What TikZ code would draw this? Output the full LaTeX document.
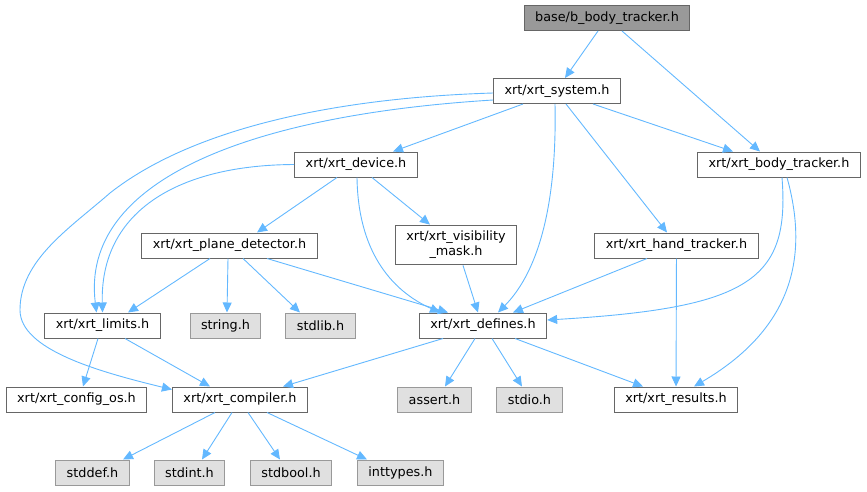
\documentclass[tikz,border=0pt]{standalone}
\usepackage{fontspec}
\setmainfont{DejaVu Sans}
\definecolor{doxyedge}{RGB}{99,184,255}
\definecolor{doxyframe}{RGB}{102,102,102}
\definecolor{doxysysframe}{RGB}{153,153,153}
\definecolor{doxysysfill}{RGB}{224,224,224}
\definecolor{doxyroot}{RGB}{153,153,153}
\usetikzlibrary{arrows.meta}

\begin{document}
\begin{tikzpicture}[x=1pt, y=-1pt,
  every node/.style={font=\fontsize{12.8}{15}\selectfont},
  hdr/.style={draw=doxyframe, fill=white, line width=1pt, minimum height=25pt, inner xsep=11pt, inner ysep=6pt, align=center},
  syshdr/.style={hdr, draw=doxysysframe, fill=doxysysfill},
  roothdr/.style={hdr, fill=doxyroot},
  dep/.style={draw=doxyedge, line width=0.9pt, -{Triangle[length=10pt,width=9pt]}}]
  \useasboundingbox (0,0) rectangle (867,491);

  % files
  \node [roothdr] (base) at (607,18) {base/b\_body\_tracker.h};
  \node [hdr] (sys) at (557,91) {xrt/xrt\_system.h};
  \node [hdr] (dev) at (356,164.5) {xrt/xrt\_device.h};
  \node [hdr] (body) at (779,164.5) {xrt/xrt\_body\_tracker.h};
  \node [hdr] (plane) at (229.5,245.5) {xrt/xrt\_plane\_detector.h};
  \node [hdr] (vis) at (456,245) {xrt/xrt\_visibility\\\_mask.h};
  \node [hdr] (hand) at (676.5,245.5) {xrt/xrt\_hand\_tracker.h};
  \node [hdr] (lim) at (102.5,325.5) {xrt/xrt\_limits.h};
  \node [syshdr] (str) at (225.5,325.5) {string.h};
  \node [syshdr] (slib) at (320.5,325.5) {stdlib.h};
  \node [hdr] (def) at (483,325.5) {xrt/xrt\_defines.h};
  \node [hdr] (cos) at (76.5,399.5) {xrt/xrt\_config\_os.h};
  \node [hdr] (comp) at (240,399.5) {xrt/xrt\_compiler.h};
  \node [syshdr] (asrt) at (434.5,399.5) {assert.h};
  \node [syshdr] (sio) at (529.5,399.5) {stdio.h};
  \node [hdr] (res) at (676,399.5) {xrt/xrt\_results.h};
  \node [syshdr] (sdef) at (92.5,472.5) {stddef.h};
  \node [syshdr] (sint) at (189.5,472.5) {stdint.h};
  \node [syshdr] (sbool) at (291,472.5) {stdbool.h};
  \node [syshdr] (itypes) at (400.5,472.5) {inttypes.h};

  % includes of the top files
  \draw [dep] ([xshift=-9]base.south) -- ([xshift=8]sys.north);
  \draw [dep] ([xshift=15]base.south) -- ([xshift=-19]body.north);
  \draw [dep] ([xshift=-34]sys.south) -- ([xshift=37]dev.north);
  \draw [dep] ([xshift=36]sys.south) -- ([xshift=-46]body.north);
  \draw [dep] ([xshift=9]sys.south) -- ([xshift=-9.5]hand.north);
  \draw [dep] ([xshift=-2]sys.south) .. controls (557,200) and (540,270) .. ([xshift=15]def.north);
  \draw [dep] ([yshift=-9]sys.west) .. controls (250,115) and (80,180) .. ([xshift=-6]lim.north);
  \draw [dep] ([yshift=-2]sys.west) .. controls (330,98) and (190,130) .. (110,193)
    .. controls (70,228) and (20,260) .. (20,310)
    .. controls (20,350) and (100,372) .. ([yshift=10]comp.west);

  % xrt_device.h
  \draw [dep] ([xshift=-19]dev.south) -- ([xshift=27.5]plane.north);
  \draw [dep] ([xshift=16]dev.south) -- ([xshift=-26]vis.north);
  \draw [dep] ([xshift=1]dev.south) .. controls (358,250) and (390,290) .. ([xshift=-43]def.north);
  \draw [dep] (dev.west) .. controls (180,165) and (100,210) .. (lim.north);

  % middle row
  \draw [dep] ([xshift=-19.5]plane.south) -- ([xshift=25.5]lim.north);
  \draw [dep] ([xshift=-1.5]plane.south) -- ([xshift=1.5]str.north);
  \draw [dep] ([xshift=13.5]plane.south) -- ([xshift=-20.5]slib.north);
  \draw [dep] ([xshift=37.5]plane.south) -- ([xshift=-35]def.north);
  \draw [dep] ([xshift=7]vis.south) -- ([xshift=-5]def.north);
  \draw [dep] ([xshift=-29.5]hand.south) -- ([xshift=30]def.north);
  \draw [dep] (hand) -- (res);
  \draw [dep] ([xshift=3]body.south) .. controls (790,280) and (750,308) .. ([yshift=5.5]def.east);
  \draw [dep] ([xshift=8]body.south) .. controls (810,260) and (790,330) .. ([xshift=18]res.north);

  % lower rows
  \draw [dep] ([xshift=-4.5]lim.south) -- ([xshift=6.5]cos.north);
  \draw [dep] ([xshift=22.5]lim.south) -- ([xshift=-30]comp.north);
  \draw [dep] ([xshift=-40]def.south) -- ([xshift=43]comp.north);
  \draw [dep] ([xshift=-8]def.south) -- ([xshift=10.5]asrt.north);
  \draw [dep] ([xshift=9]def.south) -- ([xshift=-7.5]sio.north);
  \draw [dep] ([xshift=32]def.south) -- ([xshift=-33]res.north);
  \draw [dep] ([xshift=-25]comp.south) -- ([xshift=30.5]sdef.north);
  \draw [dep] ([xshift=-8]comp.south) -- ([xshift=12.5]sint.north);
  \draw [dep] ([xshift=8]comp.south) -- ([xshift=-11]sbool.north);
  \draw [dep] ([xshift=27]comp.south) -- ([xshift=-33.5]itypes.north);
\end{tikzpicture}
\end{document}
